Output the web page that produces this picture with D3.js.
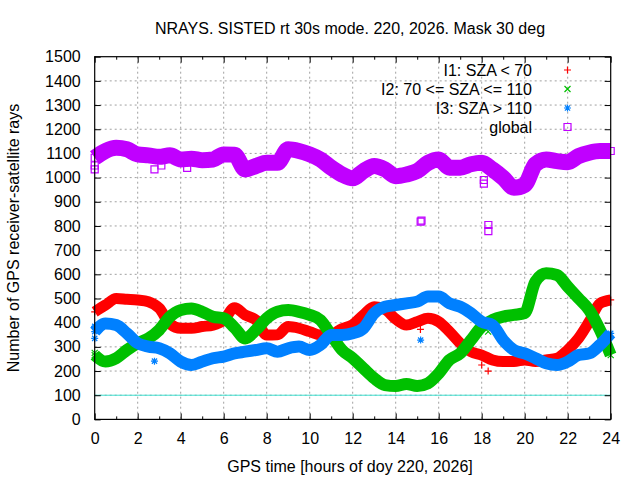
<!DOCTYPE html>
<html><head><meta charset="utf-8">
<script src="https://cdn.jsdelivr.net/npm/d3@7"></script>
<style>
html,body{margin:0;padding:0;background:#fff;}
text{font-family:"Liberation Sans",Arial,sans-serif;}
</style></head>
<body><svg id="c" width="640" height="480"></svg>
<script>
const hours = [0,0.5,1,1.5,2,2.5,3,3.5,4,4.5,5,5.5,6,6.5,7,7.5,8,8.5,9,9.5,10,10.5,11,11.5,12,12.5,13,13.5,14,14.5,15,15.5,16,16.5,17,17.5,18,18.5,19,19.5,20,20.5,21,21.5,22,22.5,23,23.5,24];
const i1 = [445,473,500,497,494,487,460,395,377,377,384,390,410,462,432,411,349,350,384,377,363,349,352,375,392,432,466,455,415,390,404,418,404,363,315,280,266,246,239,239,246,239,246,253,287,335,404,480,494];
const i2 = [266,239,253,287,315,335,370,425,452,459,445,425,418,380,335,370,418,445,452,445,432,411,349,287,253,211,170,142,138,146,138,149,190,246,273,328,384,411,425,432,440,570,604,597,549,501,452,370,266];
const i3 = [363,397,390,356,315,301,294,273,239,225,239,253,260,273,280,287,294,280,294,301,287,308,349,349,356,377,439,466,473,480,487,508,508,480,466,439,404,390,328,287,273,253,232,225,239,266,273,308,356];
const glob = [1082,1110,1123,1117,1096,1092,1086,1092,1075,1078,1072,1075,1096,1095,1034,1048,1061,1061,1117,1110,1096,1075,1041,1013,997,1027,1048,1034,1006,1013,1027,1061,1075,1041,1041,1055,1061,1034,999,958,970,1055,1075,1068,1064,1089,1103,1110,1110];
// isolated samples
const i1Out = [[15.15,372],[18.0,225],[18.3,200]];
const i2Out = [[0,275],[18.3,363]];
const i3Out = [[0,335],[0,385],[2.78,241],[15.16,328]];
const globOut = [[0,1034],[0,1050],[2.78,1034],[3.1,1050],[4.3,1040],[15.16,818],[15.2,822],[18.31,804],[18.31,779],[18.1,990],[18.1,975]];
const xTicks = [0,2,4,6,8,10,12,14,16,18,20,22,24];
const xMinor = [1,3,5,7,9,11,13,15,17,19,21,23];
const yTicks = [0,100,200,300,400,500,600,700,800,900,1000,1100,1200,1300,1400,1500];
const seriesNames = ["I1: SZA < 70","I2: 70 <= SZA <= 110","I3: SZA > 110","global"];
const title = "NRAYS. SISTED rt 30s mode. 220, 2026. Mask 30 deg";
const xLabel = "GPS time [hours of doy 220, 2026]";
const yLabel = "Number of GPS receiver-satellite rays";
const refLine = 100;

const colors = ["#ff0000","#00c000","#0080ff","#c000ff"];
const L=94.7, R=610.7, T=56.7, B=419.4;
const svg = d3.select("#c");
const x = d3.scaleLinear().domain([0,24]).range([L,R]);
const y = d3.scaleLinear().domain([0,1500]).range([B,T]);
const fs = 16;

// grid
const g = svg.append("g");
g.selectAll("line.gx").data(xTicks.slice(1,-1)).join("line")
 .attr("x1",d=>x(d)).attr("x2",d=>x(d)).attr("y1",T).attr("y2",B)
 .attr("stroke","#a0a0a0").attr("stroke-dasharray","2,3");
g.selectAll("line.gy").data(yTicks.slice(1,-1)).join("line")
 .attr("x1",L).attr("x2",R).attr("y1",d=>y(d)).attr("y2",d=>y(d))
 .attr("stroke","#a0a0a0").attr("stroke-dasharray","2,3");
// reference line
svg.append("line").attr("x1",L).attr("x2",R).attr("y1",y(refLine)).attr("y2",y(refLine))
 .attr("stroke","#40e0d0").attr("stroke-width",1);

// axes
svg.append("g").attr("transform",`translate(0,${B})`)
 .call(d3.axisBottom(x).tickValues(xTicks).tickSize(-6).tickPadding(13).tickFormat(d3.format("d")));
svg.append("g").attr("transform",`translate(0,${T})`)
 .call(d3.axisTop(x).tickValues(xTicks).tickSize(-6).tickFormat(""));
svg.append("g").attr("transform",`translate(0,${B})`)
 .call(d3.axisBottom(x).tickValues(xMinor).tickSize(-3).tickFormat(""));
svg.append("g").attr("transform",`translate(0,${T})`)
 .call(d3.axisTop(x).tickValues(xMinor).tickSize(-3).tickFormat(""));
svg.append("g").attr("transform",`translate(${L},0)`)
 .call(d3.axisLeft(y).tickValues(yTicks).tickSize(-6).tickPadding(14).tickFormat(d3.format("d")));
svg.append("g").attr("transform",`translate(${R},0)`)
 .call(d3.axisRight(y).tickValues(yTicks).tickSize(-6).tickFormat(""));
svg.selectAll(".domain").remove();
svg.selectAll(".tick line").attr("stroke","#000");
svg.selectAll(".tick text").attr("font-size",fs).attr("font-family","Liberation Sans, Arial, sans-serif").attr("fill","#000");

// symbols
const sym = [
 "M-3.5,0H3.5M0,-3.5V3.5",
 "M-3,-3L3,3M-3,3L3,-3",
 "M-3.5,0H3.5M0,-3.5V3.5M-2.6,-2.6L2.6,2.6M-2.6,2.6L2.6,-2.6",
 "M-3.5,-3.5H3.5V3.5H-3.5Z"
];
const data = [i1,i2,i3,glob];
const outs = [i1Out,i2Out,i3Out,globOut];
const widths = [11,12,12,16];
const plot = svg.append("g");
data.forEach((vals,k)=>{
  const pts = hours.map((h,i)=>[h,vals[i]]);
  const line = d3.line().x(d=>x(d[0])).y(d=>y(d[1])).curve(d3.curveMonotoneX);
  plot.append("path").attr("d",line(pts)).attr("fill","none")
    .attr("stroke",colors[k]).attr("stroke-width",widths[k]).attr("stroke-linejoin","round");
  plot.append("g").selectAll("path").data(pts.concat(outs[k])).join("path")
    .attr("transform",d=>`translate(${x(d[0])},${y(d[1])})`)
    .attr("d",sym[k]).attr("fill","none").attr("stroke",colors[k]).attr("stroke-width",1.2);
});

// border
svg.append("rect").attr("x",L).attr("y",T).attr("width",R-L).attr("height",B-T)
 .attr("fill","none").attr("stroke","#000").attr("stroke-width",1.2);

// legend
const lg = svg.append("g");
seriesNames.forEach((n,k)=>{
  const yy = 70 + k*19;
  lg.append("text").attr("x",532).attr("y",yy+6).attr("text-anchor","end").attr("font-size",fs).text(n);
  lg.append("path").attr("transform",`translate(567.5,${yy})`).attr("d",sym[k])
    .attr("fill","none").attr("stroke",colors[k]).attr("stroke-width",1.2);
});

// titles
svg.append("text").attr("x",350).attr("y",34).attr("text-anchor","middle").attr("font-size",fs).text(title);
svg.append("text").attr("x",350).attr("y",472).attr("text-anchor","middle").attr("font-size",fs).text(xLabel);
svg.append("text").attr("transform","translate(19,238) rotate(-90)").attr("text-anchor","middle").attr("font-size",fs).text(yLabel);
</script></body></html>
